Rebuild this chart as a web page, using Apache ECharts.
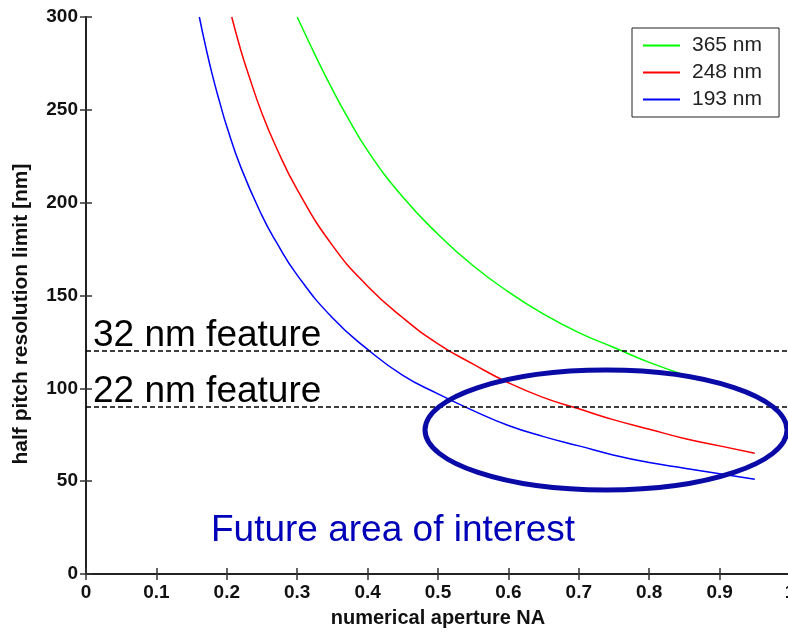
<!DOCTYPE html>
<html>
<head>
<meta charset="utf-8">
<script src="https://cdn.jsdelivr.net/npm/echarts@6/dist/echarts.min.js"></script>
<style>
html,body{margin:0;padding:0;background:#fff;}
#chartsBox{width:788px;height:634px;}
</style>
</head>
<body>
<div id="chartsBox"></div>
<script>
// values: [numerical aperture, half pitch nm]
var nm365 = [[0.30,300],[0.33,276],[0.35,261],[0.37,247],[0.40,228],[0.45,203],[0.50,183],[0.55,166],[0.60,152],[0.65,140],[0.70,130],[0.75,122],[0.80,114],[0.86,106]];
var nm248 = [[0.207,300],[0.22,282],[0.23,270],[0.25,248],[0.27,230],[0.30,207],[0.35,177],[0.40,155],[0.45,138],[0.50,124],[0.55,113],[0.60,103],[0.65,95],[0.70,89],[0.75,83],[0.80,78],[0.85,73],[0.90,69],[0.95,65]];
var nm193 = [[0.161,300],[0.17,284],[0.18,268],[0.19,254],[0.20,241],[0.22,219],[0.25,193],[0.27,179],[0.30,161],[0.35,138],[0.40,121],[0.45,107],[0.50,97],[0.55,88],[0.60,80],[0.65,74],[0.70,69],[0.75,64],[0.80,60],[0.85,57],[0.90,54],[0.95,51]];
var featureLines = [120, 90];
var featureNames = ['32 nm feature', '22 nm feature'];
var seriesNames = ['365 nm', '248 nm', '193 nm'];
var seriesColors = ['#00ff00', '#ff0000', '#0000ff'];

var fontName = '"Liberation Sans", Arial, sans-serif';
var axisLineData = {show: true, lineStyle: {color: '#222', width: 2}};
var tickData = {show: true, inside: true, length: 6, lineStyle: {color: '#333', width: 1.5}};
var labelData = {color: '#111', fontFamily: fontName, fontWeight: 'bold', fontSize: 19};

var chartsBox = echarts.init(document.getElementById('chartsBox'));
var lineSeries = [nm365, nm248, nm193].map(function(d, i){
	return {
		name: seriesNames[i],
		type: 'line',
		data: d,
		symbol: 'none',
		smooth: true,
		lineStyle: {color: seriesColors[i], width: 1.5},
		itemStyle: {color: seriesColors[i]},
		z: 3
	};
});
// dashed feature lines
lineSeries.push({
	type: 'line',
	data: [],
	markLine: {
		silent: true,
		symbol: 'none',
		label: {show: false},
		lineStyle: {color: '#000', type: [5, 3], width: 1.5},
		data: featureLines.map(function(v){ return {yAxis: v}; })
	}
});

var option = {
	animation: false,
	grid: {left: 86, right: -2, top: 17, bottom: 60, outerBoundsMode: 'none', containLabel: false},
	legend: {
		data: seriesNames.map(function(n){ return {name: n, icon: 'rect'}; }),
		orient: 'vertical',
		left: 632,
		top: 28,
		padding: [7, 17, 7, 11],
		itemWidth: 37,
		itemHeight: 2,
		itemGap: 6,
		backgroundColor: '#fff',
		borderColor: '#222',
		borderWidth: 1,
		textStyle: {fontFamily: fontName, fontSize: 21, color: '#222', padding: [0, 0, 0, 7], lineHeight: 20}
	},
	xAxis: [{
		type: 'value', min: 0, max: 1, interval: 0.1,
		name: 'numerical aperture NA', nameLocation: 'middle', nameGap: 34,
		nameTextStyle: {color: '#111', fontFamily: fontName, fontWeight: 'bold', fontSize: 20},
		axisLine: axisLineData, axisTick: tickData, splitLine: {show: false},
		axisLabel: Object.assign({margin: 9}, labelData)
	}, {
		type: 'value', min: 0, max: 1, interval: 0.1, position: 'top',
		axisLine: axisLineData, axisTick: tickData, splitLine: {show: false},
		axisLabel: {show: false}
	}],
	yAxis: [{
		type: 'value', min: 0, max: 300, interval: 50,
		axisLine: axisLineData, axisTick: tickData, splitLine: {show: false},
		axisLabel: Object.assign({margin: 8}, labelData)
	}, {
		type: 'value', min: 0, max: 300, interval: 50, position: 'right',
		axisLine: axisLineData, axisTick: tickData, splitLine: {show: false},
		axisLabel: {show: false}
	}],
	series: lineSeries
};
chartsBox.setOption(option);

// annotations placed from data coords
var p32 = chartsBox.convertToPixel({gridIndex: 0}, [0, featureLines[0]]);
var p22 = chartsBox.convertToPixel({gridIndex: 0}, [0, featureLines[1]]);
chartsBox.setOption({
	graphic: [{
		//y轴标题
		type: 'text', x: 21, y: 314, rotation: Math.PI / 2, z: 10,
		style: {text: 'half pitch resolution limit [nm]', fill: '#111', font: 'bold 21px ' + fontName, align: 'center', verticalAlign: 'middle'}
	}, {
		type: 'text', x: 93, y: p32[1] - 15, z: 10,
		style: {text: featureNames[0], fill: '#000', font: '37px ' + fontName, verticalAlign: 'middle'}
	}, {
		type: 'text', x: 93, y: p22[1] - 15, z: 10,
		style: {text: featureNames[1], fill: '#000', font: '37px ' + fontName, verticalAlign: 'middle'}
	}, {
		type: 'text', x: 211, y: 531, z: 10,
		style: {text: 'Future area of interest', fill: '#0000b8', font: '37px ' + fontName, verticalAlign: 'middle'}
	}, {
		type: 'ellipse', z: 10,
		shape: {cx: 606, cy: 430, rx: 181, ry: 60},
		style: {fill: null, stroke: '#0a0aa6', lineWidth: 5}
	}]
});
</script>
</body>
</html>
